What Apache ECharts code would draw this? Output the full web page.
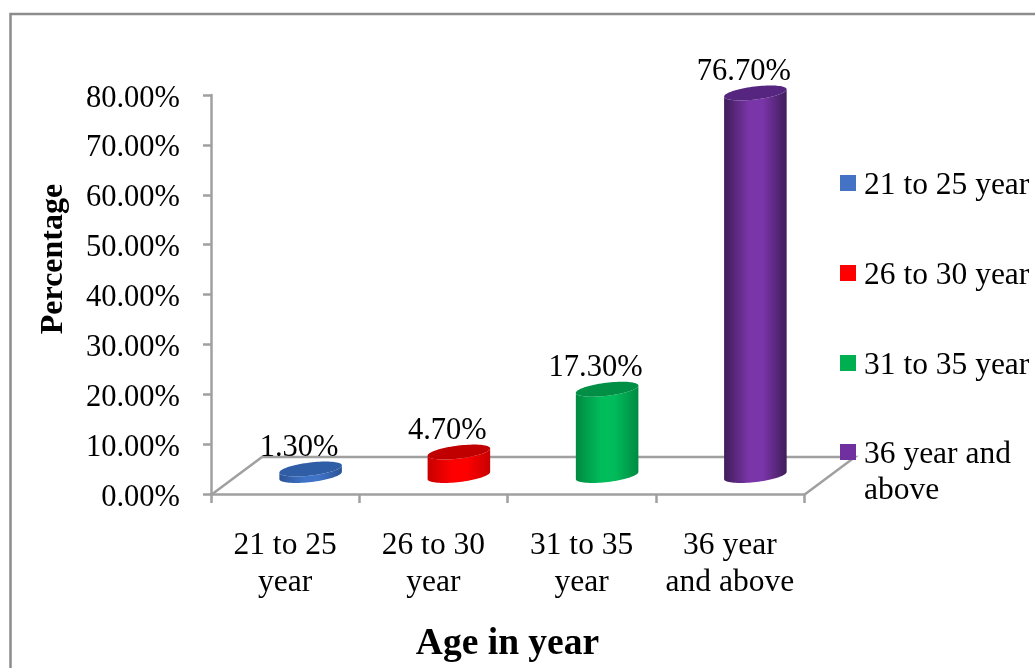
<!DOCTYPE html>
<html>
<head>
<meta charset="utf-8">
<style>html,body{margin:0;padding:0;background:#fff}#chart{width:1035px;height:668px}</style>
<script src="https://cdn.jsdelivr.net/npm/echarts@6/dist/echarts.min.js"></script>
</head>
<body>
<div id="chart"></div>
<script>
// Respondents by age group, drawn as pseudo-3D cylinders on a floor plane.
const categories = ['21 to 25\nyear', '26 to 30\nyear', '31 to 35\nyear', '36 year\nand above'];
const seriesNames = ['21 to 25 year', '26 to 30 year', '31 to 35 year', '36 year and above'];
const values = [1.3, 4.7, 17.3, 76.7];
const yTicks = { min: 0, max: 80, interval: 10 };
const palette = [
  { base: '#3f73c8', edge: '#2c5496', top: '#2f5da6', key: '#4472c4' },
  { base: '#ff0000', edge: '#c80000', top: '#c00000', key: '#ff0000' },
  { base: '#00bc5a', edge: '#008a42', top: '#008f45', key: '#00b050' },
  { base: '#7a35a8', edge: '#3f1d5a', top: '#552580', key: '#7030a0' }
];

const FONT = '"Liberation Serif", "Times New Roman", serif';
const GRID = { left: 211, top: 95, width: 593, height: 400 };
const DEPTH_X = 51, DEPTH_Y = 38;      // floor depth, in pixels
const SHIFT_X = 25.5, SHIFT_Y = 18.5;  // cylinder centre sits mid-way along the floor depth
const RX = 31.5, RY = 6.5, TILT = 0.12;  // cylinder cross-section ellipse

// Point on the tilted ellipse centred at (cx, cy).
function ellipsePoint(cx, cy, t) {
  const x = RX * Math.cos(t), y = RY * Math.sin(t);
  return [cx + x * Math.cos(TILT) + y * Math.sin(TILT), cy - x * Math.sin(TILT) + y * Math.cos(TILT)];
}

function renderCylinder(params, api) {
  const i = api.value(0), v = api.value(1);
  const zero = api.coord([i, 0]), peak = api.coord([i, v]);
  const cx = zero[0] + SHIFT_X;
  const baseY = zero[1] - SHIFT_Y, topY = peak[1] - SHIFT_Y;
  const colors = palette[i];

  // Body outline: front half of the base, then back along the top rim.
  const body = [];
  for (let k = 0; k <= 40; k++) body.push(ellipsePoint(cx, baseY, Math.PI * k / 40));
  for (let k = 40; k >= 0; k--) body.push(ellipsePoint(cx, topY, Math.PI * k / 40));
  const rim = [];
  for (let k = 0; k < 80; k++) rim.push(ellipsePoint(cx, topY, 2 * Math.PI * k / 80));

  return {
    type: 'group',
    children: [
      {
        type: 'polygon',
        shape: { points: body },
        style: {
          fill: new echarts.graphic.LinearGradient(0, 0, 1, 0, [
            { offset: 0, color: colors.edge },
            { offset: 0.4, color: colors.base },
            { offset: 0.62, color: colors.base },
            { offset: 1, color: colors.edge }
          ])
        }
      },
      { type: 'polygon', shape: { points: rim }, style: { fill: colors.top } },
      {
        type: 'text',
        style: {
          x: cx - 11.5, y: topY - 21,
          text: v.toFixed(2) + '%',
          fill: '#000', font: '30.5px ' + FONT,
          align: 'center', verticalAlign: 'middle'
        }
      }
    ]
  };
}

const chart = echarts.init(document.getElementById('chart'), null, { renderer: 'canvas' });
const gridRight = GRID.left + GRID.width, gridBottom = GRID.top + GRID.height;
const axisPen = { color: '#a0a0a0', width: 2.5 };

chart.setOption({
  backgroundColor: '#fff',
  animation: false,
  grid: GRID,
  legend: seriesNames.map((name, i) => ({
    data: [name],
    orient: 'vertical',
    left: 840,
    top: [170, 260, 350, 439][i],
    padding: 0,
    icon: 'rect',
    itemWidth: 16,
    itemHeight: 16,
    selectedMode: false,
    textStyle: {
      rich: { key: { fontFamily: FONT, fontSize: 31.5, color: '#000', padding: [6, 0, 0, 3] } }
    },
    formatter: n => '{key|' + (n === seriesNames[3] ? '36 year and' : n) + '}'
  })),
  xAxis: {
    type: 'category',
    data: categories,
    name: 'Age in year',
    nameLocation: 'middle',
    nameGap: 131,
    nameTextStyle: { fontFamily: FONT, fontSize: 37.5, fontWeight: 'bold', color: '#000' },
    axisLine: { lineStyle: axisPen },
    axisTick: { show: true, alignWithLabel: false, interval: 0, length: 9, lineStyle: axisPen },
    axisLabel: { fontFamily: FONT, fontSize: 31.5, color: '#000', margin: 33, lineHeight: 37, interval: 0 }
  },
  yAxis: {
    type: 'value',
    min: yTicks.min, max: yTicks.max, interval: yTicks.interval,
    name: 'Percentage',
    nameLocation: 'middle',
    nameGap: 141,
    nameRotate: 90,
    nameTextStyle: { fontFamily: FONT, fontSize: 32, fontWeight: 'bold', color: '#000', padding: [0, 0, 0, 71] },
    splitLine: { show: false },
    axisLine: { show: true, lineStyle: axisPen },
    axisTick: { show: true, length: 8, lineStyle: axisPen },
    axisLabel: {
      margin: 31,
      formatter: v => '{pct|' + v.toFixed(2) + '%}',
      rich: { pct: { fontFamily: FONT, fontSize: 30.5, color: '#000', padding: [7, 0, 0, 0] } }
    }
  },
  graphic: [
    { type: 'rect', z: -10, silent: true, shape: { x: 10.5, y: 14, width: 1040, height: 700 }, style: { fill: '#fff', stroke: '#8c8c8c', lineWidth: 2.5 } },
    {
      type: 'polyline', z: 0, silent: true,
      shape: { points: [
        [GRID.left, gridBottom],
        [GRID.left + DEPTH_X, gridBottom - DEPTH_Y],
        [gridRight + DEPTH_X, gridBottom - DEPTH_Y],
        [gridRight, gridBottom]
      ] },
      style: { stroke: axisPen.color, lineWidth: axisPen.width, fill: 'none' }
    },
    { type: 'text', silent: true, style: { x: 864, y: 491, text: 'above', font: '31.5px ' + FONT, fill: '#000', verticalAlign: 'middle' } }
  ],
  series: seriesNames.map((name, i) => ({
    type: 'custom',
    name,
    coordinateSystem: 'cartesian2d',
    itemStyle: { color: palette[i].key },
    data: [[i, values[i]]],
    encode: { x: 0, y: 1 },
    clip: false,
    renderItem: renderCylinder
  }))
});
</script>
</body>
</html>
